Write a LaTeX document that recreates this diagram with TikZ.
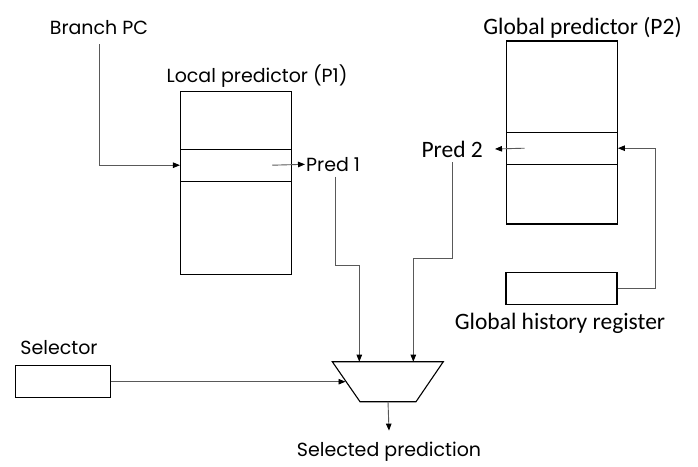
\documentclass[tikz,border=0pt]{standalone}
\usepackage{fontspec}
\setmainfont{Poppins}
\newfontfamily\calib{Carlito}
\usetikzlibrary{arrows.meta}
\tikzset{
  box/.style={draw=black, line width=1.1pt, inner sep=0pt},
  conn/.style={draw=black!65, line width=0.9pt},
  arr/.style={conn, -{Triangle[length=7pt,width=5.5pt,fill=black,color=black]}},
  gothic/.style={font=\fontsize{19}{22}\selectfont, inner sep=1pt},
  calibri/.style={font=\calib\fontsize{23.5}{27}\selectfont, inner sep=1pt},
}
\begin{document}
\begin{tikzpicture}[x=1pt,y=-1pt]
\useasboundingbox (0,0) rectangle (698,466);
% labels
\node[gothic] (bpc) at (99,28) {Branch PC};
\node[gothic] (lpl) at (257,76) {Local predictor (P1)};
\node[calibri] (gpl) at (582.5,28) {Global predictor (P2)};
\node[gothic] (sell) at (59,348) {Selector};
\node[calibri] (ghrl) at (560,323) {Global history register};
\node[gothic] (sp) at (389,451.5) {Selected prediction};
% boxes
\node[box, minimum width=111.2pt, minimum height=183.3pt] (lp) at (236.1,182.7) {};
\node[box, minimum width=111.2pt, minimum height=31.7pt] (lrow) at (236.1,165.2) {};
\node[box, minimum width=111.3pt, minimum height=183pt] (gp) at (561.7,132.5) {};
\node[box, minimum width=111.3pt, minimum height=31.7pt] (grow) at (561.7,148.2) {};
\node[box, minimum width=111pt, minimum height=31.6pt] (ghr) at (561.5,288.5) {};
\node[box, minimum width=94.6pt, minimum height=32pt] (sel) at (63,381.7) {};
% mux
\draw[line width=1.1pt] (332.3,361.7) -- (443.3,361.7) -- (416,401.7) -- (360,401.7) -- cycle;
\coordinate (m1) at (359.3,361.7);
\coordinate (m2) at (413.3,361.7);
\coordinate (msel) at (345.5,381.7);
\coordinate (mout) at (388,401.7);
% pred labels
\node[gothic, anchor=west] (p1) at (305,164.3) {Pred 1};
\node[calibri, anchor=east] (p2) at (484,149) {Pred 2};
% connectors
\draw[arr] ([yshift=-8pt]bpc.south) |- (lrow.west);
\draw[arr] ([xshift=-20pt]lrow.east) -- (p1.west);
\draw[arr] ([xshift=19pt]grow.west) -- ([xshift=11pt]p2.east);
\draw[arr] (ghr.east) -- ++(38,0) |- (grow.east);
\draw[arr] ([xshift=2pt,yshift=-4pt]p1.south) -- ++(0,89) -| (m1);
\draw[arr] ([yshift=-4pt]p2.south) -- ++(0,96) -| (m2);
\draw[arr] (sel.east) -- (msel);
\draw[arr] (mout) -- ([yshift=10pt]sp.north);
\end{tikzpicture}
\end{document}
